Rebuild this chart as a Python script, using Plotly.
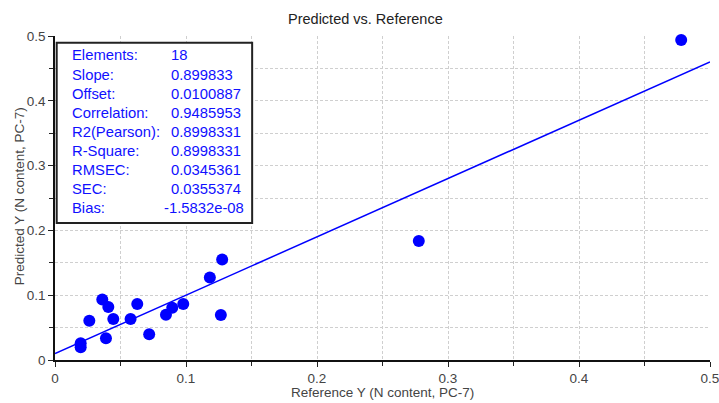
import plotly.graph_objects as go

# Data
reference_y = [0.478, 0.2777, 0.1276, 0.1182, 0.1266, 0.0979, 0.0895, 0.0847, 0.0719,
               0.0628, 0.0577, 0.0445, 0.0407, 0.0361, 0.0389, 0.0262, 0.0196, 0.0196]
predicted_y = [0.494, 0.1838, 0.155, 0.1274, 0.0693, 0.0863, 0.0806, 0.0698, 0.0396,
               0.0863, 0.0632, 0.0632, 0.0817, 0.0935, 0.0334, 0.0606, 0.0257, 0.0196]

slope = 0.899833
offset = 0.0100887
line_x = [0.0, 0.5]

stat_labels = ["Elements:", "Slope:", "Offset:", "Correlation:", "R2(Pearson):",
               "R-Square:", "RMSEC:", "SEC:", "Bias:"]
stat_values = ["18", "0.899833", "0.0100887", "0.9485953", "0.8998331",
               "0.8998331", "0.0345361", "0.0355374", "-1.5832e-08"]

tick_vals = [0, 0.1, 0.2, 0.3, 0.4, 0.5]
tick_text = ["0", "0.1", "0.2", "0.3", "0.4", "0.5"]

W, H = 719, 403
ML, MR, MT, MB = 55, 8.5, 35.5, 43
PW, PH = W - ML - MR, H - MT - MB

def px(xp):
    return (xp - ML) / PW

def py(yp):
    return (H - MB - yp) / PH

FONT = "Liberation Sans, Arial"
GRID = "#cfcfcf"

fig = go.Figure()
fig.add_trace(go.Scatter(
    x=line_x, y=[slope * v + offset for v in line_x], mode="lines",
    line=dict(color="#0000ff", width=1.5), hoverinfo="skip", showlegend=False,
    cliponaxis=False))
fig.add_trace(go.Scatter(
    x=reference_y, y=predicted_y, mode="markers",
    marker=dict(color="#0000ff", size=12, line=dict(width=0)), showlegend=False,
    cliponaxis=False))

axis_common = dict(
    range=[0, 0.5], tickvals=tick_vals, ticktext=tick_text,
    showgrid=True, gridcolor=GRID, griddash="3px,2px", gridwidth=1,
    minor=dict(dtick=0.05, tick0=0, showgrid=True, gridcolor=GRID,
               griddash="3px,2px", gridwidth=1, ticks="outside", ticklen=4, tickcolor="#222"),
    ticks="outside", ticklen=5, tickcolor="#222", tickwidth=1,
    showline=True, linecolor="#111", linewidth=1.5, zeroline=False,
    tickfont=dict(family=FONT, size=13.5, color="#444"),
    fixedrange=True, automargin=False, ticklabeloverflow="allow",
)

fig.update_xaxes(**axis_common)
fig.update_yaxes(**axis_common)

# Stats box
fig.add_shape(type="rect", xref="paper", yref="paper",
              x0=px(56.7), x1=px(252.3), y0=py(222.7), y1=py(42.3),
              line=dict(color="#222", width=2), fillcolor="white", layer="above")

annotations = []
for i, (lab, val) in enumerate(zip(stat_labels, stat_values)):
    yc = py(55 + i * 19.09)
    annotations.append(dict(text=lab, x=px(70), y=yc, xref="paper", yref="paper",
                            xanchor="left", yanchor="middle", showarrow=False,
                            font=dict(family=FONT, size=14.8, color="#1010ff")))
    vx = px(162) if val.startswith("-") else px(169.5)
    annotations.append(dict(text=val, x=vx, y=yc, xref="paper", yref="paper",
                            xanchor="left", yanchor="middle", showarrow=False,
                            font=dict(family=FONT, size=14.8, color="#1010ff")))

annotations.append(dict(text="Predicted vs. Reference", x=px(366), y=py(18),
                        xref="paper", yref="paper", showarrow=False,
                        xanchor="center", yanchor="middle",
                        font=dict(family=FONT, size=14.5, color="#222")))
annotations.append(dict(text="Reference Y (N content, PC-7)", x=px(382.5), y=py(392.5),
                        xref="paper", yref="paper", showarrow=False,
                        xanchor="center", yanchor="middle",
                        font=dict(family=FONT, size=13.5, color="#444")))
annotations.append(dict(text="Predicted Y (N content, PC-7)", x=px(19), y=py(196),
                        xref="paper", yref="paper", showarrow=False, textangle=-90,
                        xanchor="center", yanchor="middle",
                        font=dict(family=FONT, size=13.5, color="#444")))

fig.update_layout(
    width=W, height=H,
    margin=dict(l=ML, r=MR, t=MT, b=MB),
    paper_bgcolor="white", plot_bgcolor="white",
    annotations=annotations,
    showlegend=False,
)

fig.write_html("out.html", config={"displayModeBar": False},
               post_script="document.body.style.margin='0';document.body.style.overflow='hidden';")
